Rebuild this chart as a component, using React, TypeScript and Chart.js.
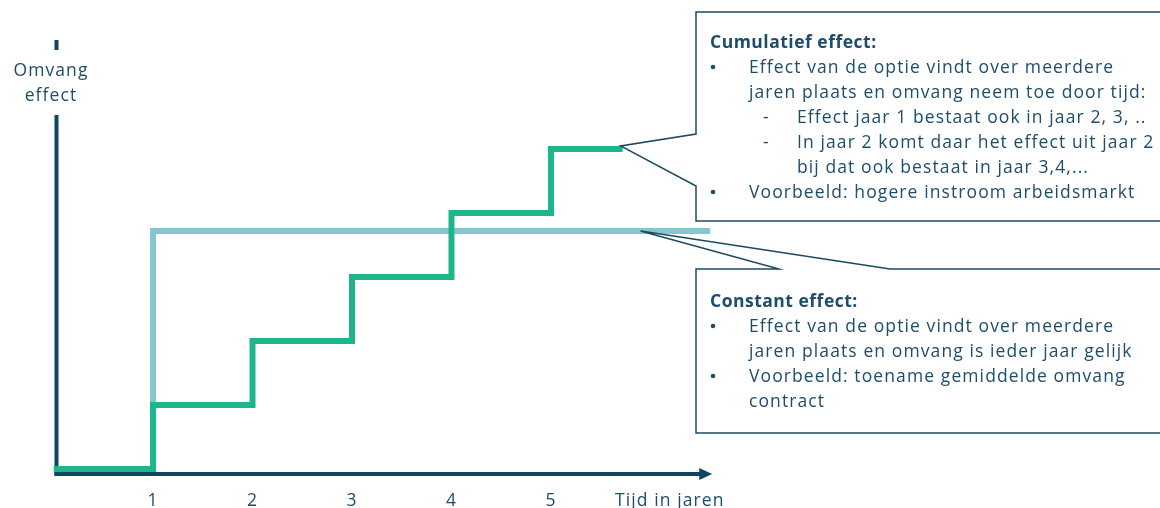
import React, { useEffect, useRef } from "react";
import { Chart, registerables } from "chart.js";

Chart.register(...registerables);

// ---- data ----
const cumulativeYears = [0, 1, 2, 3, 4, 5, 5.72];
const cumulativeValues = [0, 1, 2, 3, 4, 5, 5];
const constantYears = [1, 1, 6.6];
const constantValues = [1, 3.72, 3.72];
const tickValues = [1, 2, 3, 4, 5];
const tickLabels = ["1", "2", "3", "4", "5"];
const xAxisTitle = "Tijd in jaren";
const yAxisTitle = ["Omvang", "effect"];
const cumulativeTitle = "Cumulatief effect:";
const cumulativeLines: [number, string][] = [
  [0, "Effect van de optie vindt over meerdere"],
  [-1, "jaren plaats en omvang neem toe door tijd:"],
  [1, "Effect jaar 1 bestaat ook in jaar 2, 3, .."],
  [1, "In jaar 2 komt daar het effect uit jaar 2"],
  [-2, "bij dat ook bestaat in jaar 3,4,..."],
  [0, "Voorbeeld: hogere instroom arbeidsmarkt"],
];
const constantTitle = "Constant effect:";
const constantLines: [number, string][] = [
  [0, "Effect van de optie vindt over meerdere"],
  [-1, "jaren plaats en omvang is ieder jaar gelijk"],
  [0, "Voorbeeld: toename gemiddelde omvang"],
  [-1, "contract"],
];

const NAVY = "#0d4660";
const TEXT = "#1d4d6a";
const GREEN = "#1db68a";
const BLUE = "#87c5cf";
const FONT = "'Open Sans', sans-serif";
const FS = 17.5;

const decorPlugin = {
  id: "decor",
  beforeDatasetsDraw(chart: any) {
    const ctx = chart.ctx;
    const xs = chart.scales.x;
    const ys = chart.scales.y;
    const ox = xs.getPixelForValue(0) + 3;
    const oy = ys.getPixelForValue(-0.08);
    ctx.save();
    ctx.strokeStyle = NAVY;
    ctx.fillStyle = NAVY;
    ctx.lineWidth = 4;
    ctx.beginPath();
    ctx.moveTo(ox, oy + 2);
    ctx.lineTo(ox, 115);
    ctx.moveTo(ox, 50);
    ctx.lineTo(ox, 40);
    ctx.stroke();
    const ax = xs.getPixelForValue(6.5);
    const tip = xs.getPixelForValue(6.62);
    ctx.beginPath();
    ctx.moveTo(ox - 2, oy);
    ctx.lineTo(ax, oy);
    ctx.stroke();
    ctx.beginPath();
    ctx.moveTo(ax - 1, oy - 6);
    ctx.lineTo(tip, oy);
    ctx.lineTo(ax - 1, oy + 6);
    ctx.closePath();
    ctx.fill();
    ctx.restore();
  },
  afterDatasetsDraw(chart: any) {
    const ctx = chart.ctx;
    const xs = chart.scales.x;
    const ys = chart.scales.y;
    ctx.save();
    try { (ctx as any).letterSpacing = "1.1px"; } catch (e) {}
    ctx.fillStyle = TEXT;
    ctx.font = `${FS}px ${FONT}`;
    ctx.textBaseline = "alphabetic";
    ctx.textAlign = "center";
    tickValues.forEach((v, i) => {
      ctx.fillText(tickLabels[i], xs.getPixelForValue(v), 506);
    });
    ctx.textAlign = "left";
    ctx.fillText(xAxisTitle, 615, 506);
    ctx.textAlign = "center";
    ctx.fillText(yAxisTitle[0], 51, 76);
    ctx.fillText(yAxisTitle[1], 51, 101);

    ctx.strokeStyle = "#1b4a63";
    ctx.lineWidth = 1.5;
    const n = cumulativeYears.length - 1;
    const t1x = xs.getPixelForValue(cumulativeYears[n]) - 2;
    const t1y = ys.getPixelForValue(cumulativeValues[n]) - 3;
    ctx.beginPath();
    ctx.moveTo(1170, 12);
    ctx.lineTo(696, 12);
    ctx.lineTo(696, 134);
    ctx.lineTo(t1x, t1y);
    ctx.lineTo(696, 186);
    ctx.lineTo(696, 221);
    ctx.lineTo(1170, 221);
    ctx.fillStyle = "#ffffff";
    ctx.fill();
    ctx.stroke();

    const t2x = xs.getPixelForValue(5.9);
    const t2y = ys.getPixelForValue(constantValues[2]);
    ctx.beginPath();
    ctx.moveTo(1170, 269);
    ctx.lineTo(890, 269);
    ctx.lineTo(t2x, t2y);
    ctx.lineTo(779, 269);
    ctx.lineTo(696, 269);
    ctx.lineTo(696, 433);
    ctx.lineTo(1170, 433);
    ctx.stroke();

    const drawBlock = (title: string, lines: [number, string][], y0: number) => {
      ctx.fillStyle = TEXT;
      ctx.textAlign = "left";
      ctx.font = `bold ${FS}px ${FONT}`;
      try { (ctx as any).letterSpacing = "0.5px"; } catch (e) {}
      ctx.fillText(title, 710, y0);
      try { (ctx as any).letterSpacing = "1.1px"; } catch (e) {}
      ctx.font = `${FS}px ${FONT}`;
      lines.forEach(([kind, s], i) => {
        const y = y0 + 25 * (i + 1);
        if (kind === 0) {
          ctx.beginPath();
          ctx.arc(713, y - 6, 2.3, 0, Math.PI * 2);
          ctx.fill();
          ctx.fillText(s, 749, y);
        } else if (kind === -1) {
          ctx.fillText(s, 749, y);
        } else if (kind === 1) {
          ctx.fillText("-", 763, y);
          ctx.fillText(s, 797, y);
        } else {
          ctx.fillText(s, 797, y);
        }
      });
    };
    drawBlock(cumulativeTitle, cumulativeLines, 48);
    drawBlock(constantTitle, constantLines, 307);
    ctx.restore();
  },
};

export default function App() {
  const ref = useRef<HTMLCanvasElement | null>(null);
  useEffect(() => {
    if (!ref.current) return;
    const chart = new Chart(ref.current, {
      type: "line",
      data: {
        datasets: [
          {
            label: "Cumulatief effect",
            data: cumulativeYears.map((x, i) => ({ x, y: cumulativeValues[i] })),
            borderColor: GREEN,
            borderWidth: 6,
            stepped: true,
            pointRadius: 0,
            fill: false,
            borderJoinStyle: "miter",
            borderCapStyle: "butt",
          },
          {
            label: "Constant effect",
            data: constantYears.map((x, i) => ({ x, y: constantValues[i] })),
            borderColor: BLUE,
            borderWidth: 6,
            pointRadius: 0,
            fill: false,
            borderJoinStyle: "miter",
            borderCapStyle: "butt",
          },
        ],
      },
      options: {
        animation: false,
        responsive: false,
        maintainAspectRatio: false,
        layout: { padding: { left: 53.5, right: 1160 - (53.5 + 6.7 * 99.5), top: 37, bottom: 32.6 } },
        plugins: { legend: { display: false }, tooltip: { enabled: false } },
        scales: {
          x: { type: "linear", min: 0, max: 6.7, display: false },
          y: { type: "linear", min: -0.1, max: 6.75, display: false },
        },
      },
      plugins: [decorPlugin],
    });
    return () => chart.destroy();
  }, []);
  return (
    <div style={{ position: "fixed", left: 0, top: 0, width: 1160, height: 508, background: "#fff" }}>
      <canvas ref={ref} width={1160} height={508} style={{ display: "block", width: 1160, height: 508 }} />
    </div>
  );
}
